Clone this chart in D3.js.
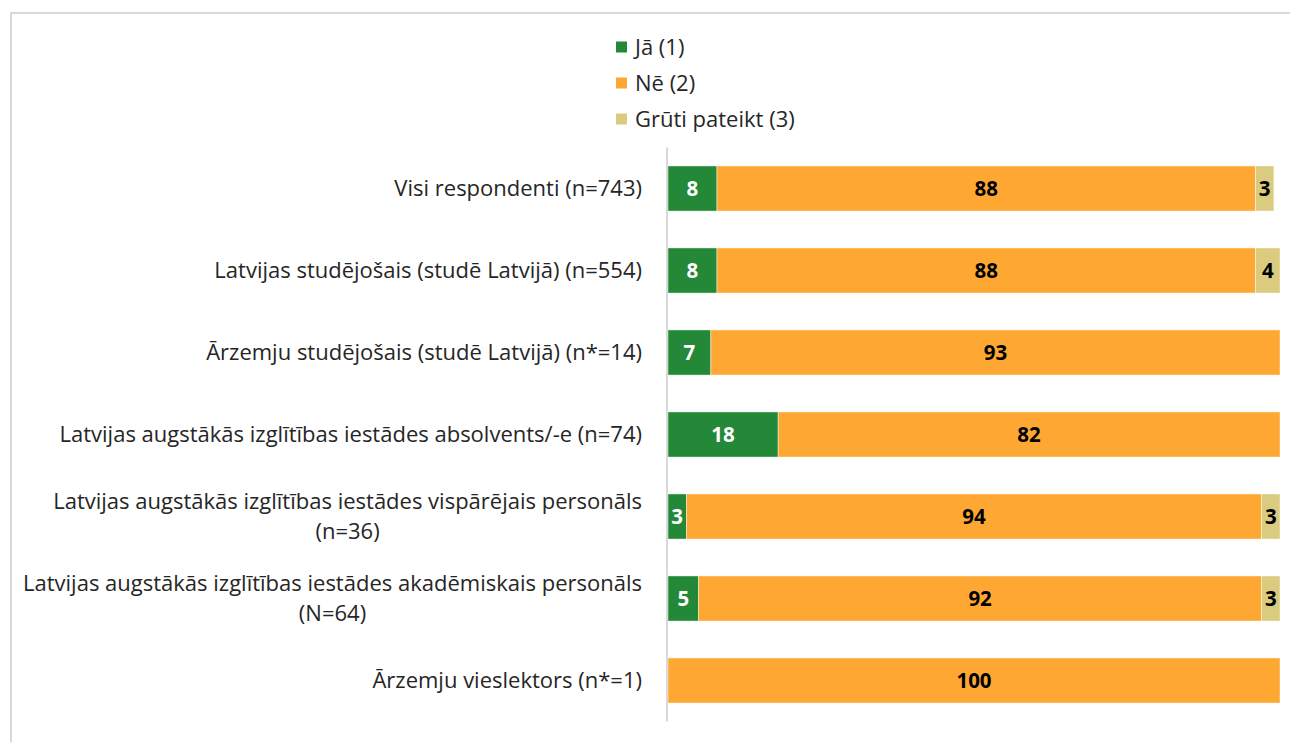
<!DOCTYPE html>
<html>
<head>
<meta charset="utf-8">
<script src="https://cdn.jsdelivr.net/npm/d3@7"></script>
<style>
  html, body { margin: 0; padding: 0; background: #fff; }
  svg { display: block; }
</style>
</head>
<body>
<div id="chart"></div>
<script>
// Survey groups (rows, top to bottom)
const categories = [
  "Visi respondenti (n=743)",
  "Latvijas studējošais (studē Latvijā) (n=554)",
  "Ārzemju studējošais (studē Latvijā) (n*=14)",
  "Latvijas augstākās izglītības iestādes absolvents/-e (n=74)",
  "Latvijas augstākās izglītības iestādes vispārējais personāls (n=36)",
  "Latvijas augstākās izglītības iestādes akadēmiskais personāls (N=64)",
  "Ārzemju vieslektors (n*=1)"
];

// Answer options
const seriesNames = ["Jā (1)", "Nē (2)", "Grūti pateikt (3)"];

// Share of answers, %
const valuesYes      = [8, 8, 7, 18, 3, 5, 0];
const valuesNo       = [88, 88, 93, 82, 94, 92, 100];
const valuesHardSay  = [3, 4, 0, 0, 3, 3, 0];

const colors = ["#238837", "#FEA833", "#DBCB7E"];
const labelColors = ["#ffffff", "#000000", "#000000"];

const W = 1290, H = 742;
const FONT = "'Open Sans', 'Noto Sans', sans-serif";
const TEXT_SIZE = 22;
const VALUE_SIZE = 20.5;

const svg = d3.select("#chart").append("svg")
  .attr("width", W).attr("height", H);

// chart frame
svg.append("path")
  .attr("d", `M11,${H} V13 H${W}`)
  .attr("fill", "none")
  .attr("stroke", "#d9d9d9")
  .attr("stroke-width", 2);

const plot = { left: 668, right: 1280, top: 147.5, bottom: 721.5 };

const x = d3.scaleLinear().domain([0, 100]).range([plot.left, plot.right]);
const y = d3.scaleBand().domain(categories).range([plot.top, plot.bottom]).paddingInner(0.45).paddingOuter(0.225);

const rows = categories.map((c, i) => ({
  cat: c,
  vals: [valuesYes[i], valuesNo[i], valuesHardSay[i]]
}));

const stackData = rows.map(r => {
  const o = { cat: r.cat };
  seriesNames.forEach((s, k) => { o[s] = r.vals[k]; });
  return o;
});
const stacked = d3.stack().keys(seriesNames)(stackData);

const g = svg.append("g");

stacked.forEach((layer, k) => {
  const lg = g.append("g");
  lg.selectAll("rect")
    .data(layer.filter(d => d[1] - d[0] > 0))
    .join("rect")
    .attr("x", d => x(d[0]))
    .attr("y", d => y(d.data.cat))
    .attr("width", d => x(d[1]) - x(d[0]))
    .attr("height", y.bandwidth())
    .attr("fill", colors[k])
    .attr("stroke", "#ffffff")
    .attr("stroke-opacity", 0.6)
    .attr("stroke-width", 0.75);

  lg.selectAll("text")
    .data(layer.filter(d => d[1] - d[0] > 0))
    .join("text")
    .attr("x", d => (x(d[0]) + x(d[1])) / 2)
    .attr("y", d => y(d.data.cat) + y.bandwidth() / 2)
    .attr("dy", "0.36em")
    .attr("text-anchor", "middle")
    .attr("font-family", FONT)
    .attr("font-weight", "bold")
    .attr("font-size", VALUE_SIZE)
    .attr("fill", labelColors[k])
    .text(d => d[1] - d[0]);
});

// vertical category axis line
svg.append("line")
  .attr("x1", plot.left - 1).attr("x2", plot.left - 1)
  .attr("y1", plot.top).attr("y2", plot.bottom)
  .attr("stroke", "#d9d9d9")
  .attr("stroke-width", 2);

// category labels, wrapped when too long
const maxLabelWidth = 640;
const labelG = svg.append("g");
categories.forEach(c => {
  const words = c.split(" ");
  const probe = labelG.append("text")
    .attr("font-family", FONT)
    .attr("font-size", TEXT_SIZE);
  const lines = [];
  let line = [];
  words.forEach(w => {
    line.push(w);
    probe.text(line.join(" "));
    if (probe.node().getComputedTextLength() > maxLabelWidth && line.length > 1) {
      line.pop();
      lines.push(line.join(" "));
      line = [w];
    }
  });
  lines.push(line.join(" "));
  const widths = lines.map(ln => { probe.text(ln); return probe.node().getComputedTextLength(); });
  probe.remove();

  // widest line ends just left of the axis; others centred under it
  const cx = 642 - d3.max(widths) / 2;
  const lh = 30;
  const cy = y(c) + y.bandwidth() / 2;
  lines.forEach((ln, i) => {
    labelG.append("text")
      .attr("text-anchor", "middle")
      .attr("font-family", FONT)
      .attr("font-size", TEXT_SIZE)
      .attr("fill", "#262626")
      .attr("x", cx)
      .attr("y", cy + (i - (lines.length - 1) / 2) * lh)
      .attr("dy", "0.35em")
      .text(ln);
  });
});

// legend
const legend = svg.append("g");
seriesNames.forEach((s, k) => {
  const ly = 47 + k * 36;
  legend.append("rect")
    .attr("x", 616).attr("y", ly - 5.5)
    .attr("width", 11).attr("height", 11)
    .attr("fill", colors[k]);
  legend.append("text")
    .attr("x", 635).attr("y", ly)
    .attr("dy", "0.35em")
    .attr("font-family", FONT)
    .attr("font-size", TEXT_SIZE)
    .attr("fill", "#262626")
    .text(s);
});
</script>
</body>
</html>
